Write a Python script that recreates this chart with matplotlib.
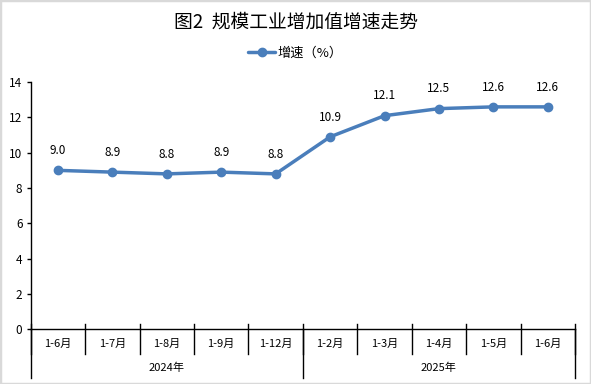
import matplotlib.pyplot as plt
import matplotlib.transforms as mtransforms
from matplotlib.patches import Rectangle
import numpy as np

plt.rcParams['font.family'] = ['Noto Sans CJK SC', 'DejaVu Sans']

months = ['1-6月', '1-7月', '1-8月', '1-9月', '1-12月',
          '1-2月', '1-3月', '1-4月', '1-5月', '1-6月']
years = ['2024年', '2025年']
year_sizes = [5, 5]
growth = [9.0, 8.9, 8.8, 8.9, 8.8, 10.9, 12.1, 12.5, 12.6, 12.6]

blue = '#4a7ebb'

fig = plt.figure(figsize=(5.91, 3.84), dpi=100)
fig.patches.append(Rectangle((0, 0), 1, 1, transform=fig.transFigure,
                             fill=False, edgecolor='#d9d9d9', linewidth=2.5))
ax = fig.add_axes([0.052, 0.143, 0.921, 0.643])

x = np.arange(len(growth)) + 0.5
ax.plot(x, growth, color=blue, linewidth=2.5, marker='o', markersize=6,
        label='增速（%）', solid_capstyle='round')
for xi, v in zip(x, growth):
    ax.text(xi, v + 0.75, f'{v:.1f}', ha='center', va='bottom', fontsize=8.5)

ax.set_xlim(0, len(growth))
ax.set_ylim(0, 14)
ax.set_yticks(range(0, 15, 2))
ax.tick_params(axis='y', length=3, width=1, labelsize=8.5, pad=3)
ax.set_xticks([])
for s in ['top', 'right']:
    ax.spines[s].set_visible(False)
ax.spines['left'].set_linewidth(1)
ax.spines['bottom'].set_linewidth(1)

# two-level category axis
trans = mtransforms.blended_transform_factory(ax.transData, ax.transAxes)
for i in range(len(months) + 1):
    ax.plot([i, i], [0.02, -0.1], color='black', lw=1, transform=trans, clip_on=False)
for i, m in enumerate(months):
    ax.text(i + 0.5, -0.06, m, ha='center', va='center', fontsize=8, transform=trans)
edges = np.concatenate([[0], np.cumsum(year_sizes)])
for e in edges:
    ax.plot([e, e], [0, -0.2], color='black', lw=1, transform=trans, clip_on=False)
for j, y in enumerate(years):
    ax.text((edges[j] + edges[j + 1]) / 2, -0.155, y, ha='center', va='center',
            fontsize=8, transform=trans)

fig.text(0.5, 0.943, '图2  规模工业增加值增速走势', ha='center', va='center', fontsize=13.5)
ax.legend(loc='center', bbox_to_anchor=(0.5, 0.861), bbox_transform=fig.transFigure,
          frameon=False, fontsize=9.5, handlelength=2.0, handletextpad=0.2)

fig.savefig('out.png', dpi=100)
